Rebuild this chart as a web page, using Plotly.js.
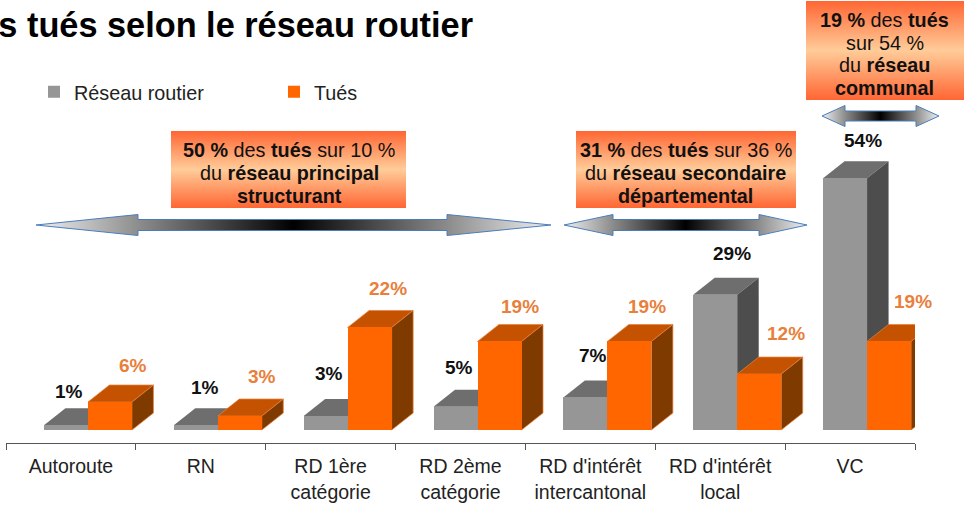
<!DOCTYPE html>
<html><head><meta charset="utf-8">
<script src="https://cdn.plot.ly/plotly-3.0.1.min.js"></script>
<style>html,body{margin:0;padding:0;background:#fff}#c{width:964px;height:505px}</style>
</head><body><div id="c"></div>
<script>
const categories = ["Autoroute","RN","RD 1ère<br>catégorie","RD 2ème<br>catégorie","RD d'intérêt<br>intercantonal","RD d'intérêt<br>local","VC"];
const reseau = [1,1,3,5,7,29,54];
const tues = [6,3,22,19,19,12,19];
const seriesNames = ["Réseau routier","Tués"];
const titleText = "s tués selon le réseau routier";

const W=964,H=505, FONT='"Liberation Sans",Arial,sans-serif';
const axL=6, axR=915, axY=443, baseY=430, pxPerUnit=4.66;
const catW=(axR-axL)/categories.length, barW=44/catW;
const offGray=-27/catW, offTues=17/catW;
const depthX=21.5/catW, depthY=17/pxPerUnit;

function box(v,off,top,side,edge){
  const s=[];
  for(let i=0;i<v.length;i++){
    const l=i+off,r=l+barW,t=v[i],b=0;
    const common={type:'path',xref:'x',yref:'y',layer:'below',line:edge?{color:edge,width:0.75}:{width:0}};
    s.push(Object.assign({},common,{fillcolor:top,path:`M${l},${t}L${l+depthX},${t+depthY}L${r+depthX},${t+depthY}L${r},${t}Z`}));
    s.push(Object.assign({},common,{fillcolor:side,path:`M${r},${b}L${r+depthX},${b+depthY}L${r+depthX},${t+depthY}L${r},${t}Z`}));
  }
  return s;
}
const gs=box(reseau,offGray,'#6E6E6E','#4D4D4D'), os=box(tues,offTues,'#C45200','#7F3A00','#E8803C');
const shapes=[...gs,...os];

const traces=[
 {type:'bar',name:seriesNames[0],x:categories,y:reseau,width:barW,offset:offGray,marker:{color:'#969696',line:{width:0}},hoverinfo:'skip'},
 {type:'bar',name:seriesNames[1],x:categories,y:tues,width:barW,offset:offTues,marker:{color:'#FF6600',line:{width:0}},hoverinfo:'skip'}
];
function panel(x0,x1,y0,y1){
  traces.push({type:'scatter',mode:'lines',xaxis:'x2',yaxis:'y2',showlegend:false,hoverinfo:'skip',
    x:[x0,x1,x1,x0,x0],y:[y0,y0,y1,y1,y0],line:{width:0},fill:'toself',
    fillgradient:{type:'vertical',colorscale:[[0,'#FF6633'],[0.5,'#FFCC99'],[1,'#FF6633']]}});
}
function arrow(x0,h0,h1,x1,yc,hh,sh){
  traces.push({type:'scatter',mode:'lines',xaxis:'x2',yaxis:'y2',showlegend:false,hoverinfo:'skip',
    x:[x0,h0,h0,h1,h1,x1,h1,h1,h0,h0,x0],
    y:[yc,yc-hh,yc-sh,yc-sh,yc-hh,yc,yc+hh,yc+sh,yc+sh,yc+hh,yc],
    line:{color:'#4A7EBB',width:1},fill:'toself',
    fillgradient:{type:'horizontal',colorscale:[[0,'#F0F0F0'],[0.2,'#8C8C8C'],[0.5,'#000000'],[0.8,'#8C8C8C'],[1,'#F0F0F0']]}});
}
panel(171,406,131,208); panel(576,796,131,208); panel(806,964,1,100);
arrow(36,138,447,551,225,10.5,5.5);
arrow(564,613,759,807,225,10.5,5.5);
arrow(822,845,916,939,116,10.5,5);

const grayShiftX=[3,9,3,3,8,17,18], grayShiftY=[-17,-21,-26,-22,-25,-24,-21];
const tuesShiftX=[23,22,18,20,18,27,24], tuesShiftY=[-20,-23,-22,-18,-18,-24,-23];
const annotations=[];
categories.forEach((c,i)=>{
  annotations.push({xref:'x',yref:'y',x:i+offGray+barW/2,y:reseau[i]+depthY,text:'<b>'+reseau[i]+'%</b>',showarrow:false,
    xanchor:'center',yanchor:'middle',xshift:grayShiftX[i],yshift:-grayShiftY[i],font:{family:FONT,size:19,color:'#111'}});
  annotations.push({xref:'x',yref:'y',x:i+offTues+barW/2,y:tues[i]+depthY,text:'<b>'+tues[i]+'%</b>',showarrow:false,
    xanchor:'center',yanchor:'middle',xshift:tuesShiftX[i],yshift:-tuesShiftY[i],font:{family:FONT,size:19,color:'#E8803C'}});
});
function note(x,y,gap,lines){lines.forEach((t,i)=>annotations.push({xref:'x2',yref:'y2',x:x,y:y+i*gap,text:t,showarrow:false,xanchor:'center',yanchor:'middle',align:'center',font:{family:FONT,size:19.8,color:'#111'}}));}
note(289,150,23,['<b>50 %</b> des <b>tués</b> sur 10 %','du <b>réseau principal</b>','<b>structurant</b>']);
note(685.5,150,23,['<b>31 %</b> des <b>tués</b> sur 36 %','du <b>réseau secondaire</b>','<b>départemental</b>']);
note(884.5,20,22.7,['<b>19 %</b> des <b>tués</b>','sur 54 %','du <b>réseau</b>','<b>communal</b>']);

const layout={
 width:W,height:H,margin:{l:0,r:0,t:0,b:0},paper_bgcolor:'#fff',plot_bgcolor:'rgba(0,0,0,0)',
 barmode:'overlay',bargap:0,showlegend:true,
 title:{text:'<b>'+titleText+'</b>',x:473/W,xref:'paper',xanchor:'right',y:1-24.5/H,yref:'paper',yanchor:'middle',font:{family:FONT,size:34.3,color:'#000'}},
 legend:{orientation:'h',x:34/W,xanchor:'left',y:1-92/H,yanchor:'middle',entrywidth:195,entrywidthmode:'pixels',font:{family:FONT,size:19.8,color:'#222'},bgcolor:'rgba(0,0,0,0)',traceorder:'normal'},
 xaxis:{type:'category',categoryorder:'array',categoryarray:categories,domain:[axL/W,axR/W],range:[-0.5,categories.length-0.5],fixedrange:true,
   showline:true,linecolor:'#555',linewidth:1,ticks:'outside',ticklen:6,tickcolor:'#555',tickwidth:1,tickson:'boundaries',dtick:1,showgrid:false,zeroline:false,
   tickangle:0,ticklabelstandoff:6,tickfont:{family:FONT,size:19.5,color:'#222'}},
 yaxis:{domain:[(H-axY)/H,1],range:[-(axY-baseY)/pxPerUnit,baseY/pxPerUnit],visible:false,fixedrange:true,showgrid:false,zeroline:false},
 xaxis2:{domain:[0,1],range:[0,W],visible:false,fixedrange:true,anchor:'y2'},
 yaxis2:{domain:[0,1],range:[H,0],visible:false,fixedrange:true,anchor:'x2'},
 shapes:shapes,annotations:annotations
};
Plotly.newPlot('c',traces,layout,{displayModeBar:false,staticPlot:true});
</script></body></html>
